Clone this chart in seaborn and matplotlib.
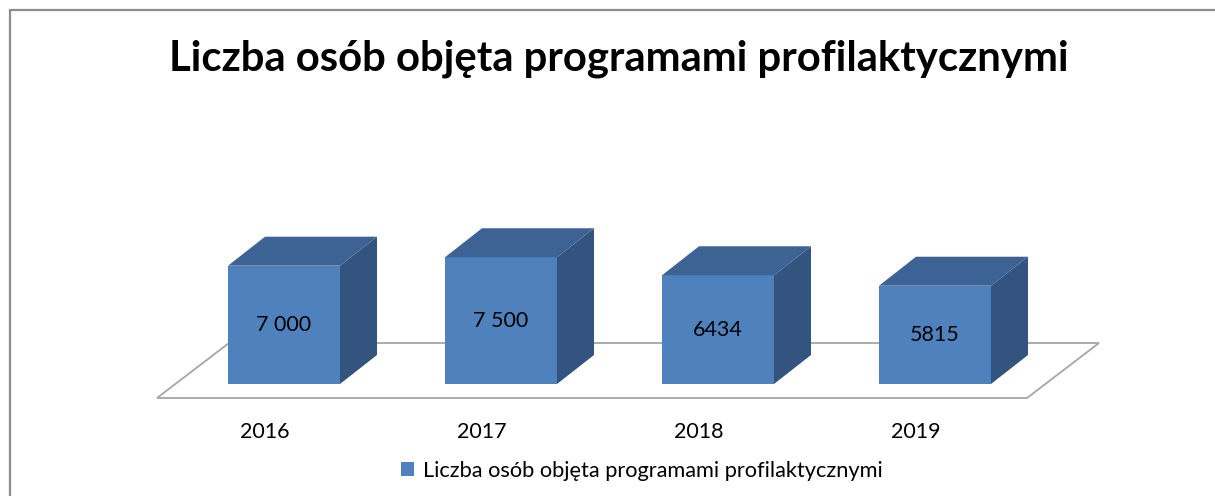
import matplotlib
matplotlib.use('Agg')
import matplotlib.pyplot as plt
from matplotlib.patches import Polygon
from matplotlib.lines import Line2D
import seaborn as sns

# data
years = ['2016', '2017', '2018', '2019']
values = [7000, 7500, 6434, 5815]
value_labels = ['7 000', '7 500', '6434', '5815']
series_name = 'Liczba osób objęta programami profilaktycznymi'
title = 'Liczba osób objęta programami profilaktycznymi'

sns.set_style('white')
plt.rcParams['font.family'] = ['Lato', 'DejaVu Sans']
plt.rcParams['text.color'] = 'black'

W, H = 1215, 496
fig = plt.figure(figsize=(W / 100, H / 100), dpi=100)
ax = fig.add_axes([0, 0, 1, 1])

front = '#4F81BD'
top_c = '#3C6394'
side_c = '#32547F'

sns.barplot(x=years, y=values, color=front, saturation=1, width=0.516,
            edgecolor='none', label=series_name, ax=ax, zorder=3)

# scale: pixels per category / per unit of value (set after seaborn)
px_x = 217.0
px_y = 0.0169
x0_px, base_px = 284, 384
ax.set_xlim(-x0_px / px_x, (W - x0_px) / px_x)
ax.set_ylim(-(H - base_px) / px_y, base_px / px_y)

# floor of the 3d plot
fy0, fy1 = -14 / px_y, 41 / px_y
fxl, fxr, fdx = (157 - x0_px) / px_x, (1027 - x0_px) / px_x, 72 / px_x
floor = Polygon([(fxl, fy0), (fxr, fy0), (fxr + fdx, fy1), (fxl + fdx, fy1)],
                closed=True, facecolor='white', edgecolor='#A6A6A6', lw=1.3, zorder=1)
ax.add_patch(floor)

# fake depth for each bar
dx, dy = 37 / px_x, 29 / px_y
for bar, lab, yr in zip(ax.containers[0], value_labels, years):
    l = bar.get_x()
    r = l + bar.get_width()
    h = bar.get_height()
    ax.add_patch(Polygon([(r, 0), (r + dx, dy), (r + dx, h + dy), (r, h)],
                         closed=True, facecolor=side_c, edgecolor='none', zorder=3))
    ax.add_patch(Polygon([(l, h), (l + dx, h + dy), (r + dx, h + dy), (r, h)],
                         closed=True, facecolor=top_c, edgecolor='none', zorder=3))
    c = (l + r) / 2
    ax.text(c, h / 2, lab, ha='center', va='center', fontsize=15.5, color='black', zorder=4)
    ax.text(c - 19 / px_x, -54 / px_y, yr, ha='center', va='baseline', fontsize=15.5,
            color='black')

leg = ax.legend(loc='center', bbox_to_anchor=(641.5 / W, 1 - 471 / H), frameon=False,
                fontsize=15.7, handlelength=0.6, handleheight=0.6, handletextpad=0.4)
for t in leg.get_texts():
    t.set_color('black')
ax.axis('off')

fig.text(619 / W, 1 - 70 / H, title, ha='center', va='baseline',
         fontsize=30.2, fontweight='bold', color='black')

# outer frame (left and top only visible)
fig.add_artist(Line2D([10 / W, 10 / W], [0, 1 - 9.5 / H], transform=fig.transFigure,
                      color='#8C8C8C', lw=1.6))
fig.add_artist(Line2D([10 / W, 1], [1 - 9.5 / H, 1 - 9.5 / H], transform=fig.transFigure,
                      color='#8C8C8C', lw=1.6))

fig.savefig('out.png', dpi=100)
